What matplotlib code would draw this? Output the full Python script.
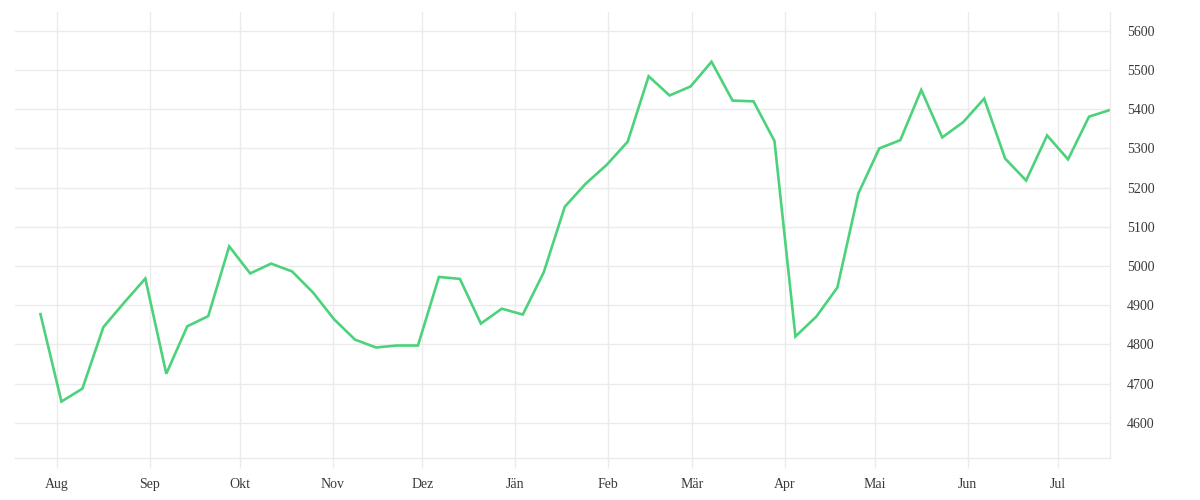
import matplotlib
matplotlib.use("Agg")
import matplotlib.pyplot as plt
import pandas as pd
from datetime import datetime

# weekly values, Jul 2022 - Jul 2023
start_date = "2022-07-26 12:00"
values = [
    4877, 4654, 4687, 4844, 4907, 4968, 4725, 4846, 4872, 5050,
    4981, 5006, 4986, 4932, 4864, 4812, 4792, 4797, 4797, 4972,
    4967, 4853, 4891, 4876, 4984, 5151, 5210, 5258, 5317, 5484,
    5435, 5458, 5521, 5422, 5420, 5319, 4820, 4871, 4945, 5185,
    5300, 5321, 5449, 5328, 5367, 5427, 5274, 5218, 5333, 5272,
    5381, 5398,
]
dates = pd.date_range(start_date, periods=len(values), freq="7D")

month_labels = ["Aug", "Sep", "Okt", "Nov", "Dez", "Jän",
                "Feb", "Mär", "Apr", "Mai", "Jun", "Jul"]
month_ticks = pd.date_range("2022-08-01", periods=12, freq="MS")
y_ticks = [4600, 4700, 4800, 4900, 5000, 5100, 5200, 5300, 5400, 5500, 5600]

plt.rcParams['font.family'] = ['Liberation Serif', 'DejaVu Serif']

grid_col = "#ebebeb"
text_col = "#3a3a3a"

fig = plt.figure(figsize=(12, 5), dpi=100)
ax = fig.add_axes([15/1200, 1 - 458/500, (1110 - 15)/1200, (458 - 12)/500])

ax.plot(dates, values, color="#4cd27b", linewidth=1.9, solid_joinstyle="miter")

ax.set_xlim(datetime(2022, 7, 18), datetime(2023, 7, 18, 12))
ax.set_ylim(4510, 5648)

ax.set_xticks(month_ticks)
ax.set_xticklabels(month_labels)
ax.set_yticks(y_ticks)
ax.yaxis.tick_right()

ax.grid(True, color=grid_col, linewidth=1)
ax.set_axisbelow(True)

for s in ["top", "left"]:
    ax.spines[s].set_visible(False)
for s in ["right", "bottom"]:
    ax.spines[s].set_color(grid_col)
    ax.spines[s].set_linewidth(1)

ax.tick_params(axis="x", length=7.2, color=grid_col, width=1, pad=7.5,
               labelsize=10, labelcolor=text_col)
ax.tick_params(axis="y", length=0, pad=12, labelsize=10, labelcolor=text_col)

fig.savefig("out.png", dpi=100, facecolor="white")
